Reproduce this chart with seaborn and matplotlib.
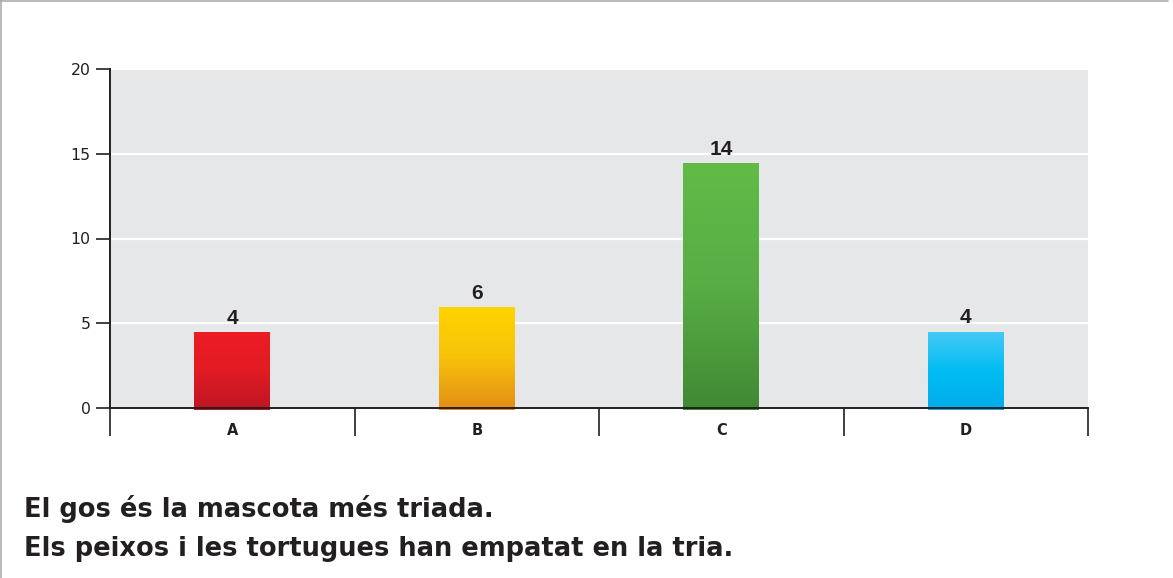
import numpy as np
import pandas as pd
import seaborn as sns
import matplotlib.pyplot as plt
from matplotlib.colors import LinearSegmentedColormap
from matplotlib.lines import Line2D

# Data
categories = ["A", "B", "C", "D"]
bar_heights = [4.45, 5.92, 14.4, 4.48]
bar_labels = ["4", "6", "14", "4"]
caption_lines = ["El gos és la mascota més triada.",
                 "Els peixos i les tortugues han empatat en la tria."]

# gradient stops: bottom, middle, top
gradients = [
    ["#BC1622", "#E21B24", "#ED1C24"],
    ["#E38C17", "#F7C20A", "#FFD400"],
    ["#3F8933", "#58AD45", "#62BB47"],
    ["#00ACEC", "#00BDF2", "#45C9F5"],
]

df = pd.DataFrame({"cat": categories, "value": bar_heights})

sns.set_theme(style="white")
plt.rcParams["font.family"] = ["DejaVu Sans"]

fig = plt.figure(figsize=(11.73, 5.78), dpi=100)
ax = fig.add_axes([110 / 1173, 1 - 408 / 578, 978 / 1173, 339 / 578])
ax.set_facecolor("#E6E7E8")

sns.barplot(data=df, x="cat", y="value", width=0.31, ax=ax, zorder=2)

# replace the flat fills by vertical gradients clipped to each bar
for patch, stops in zip(ax.patches, gradients):
    x0, y0 = patch.get_x(), patch.get_y()
    w, h = patch.get_width(), patch.get_height()
    cmap = LinearSegmentedColormap.from_list("g", [(0, stops[0]), (0.5, stops[1]), (1, stops[2])])
    grad = np.linspace(0, 1, 256).reshape(-1, 1)
    im = ax.imshow(grad, cmap=cmap, origin="lower", aspect="auto",
                   extent=[x0, x0 + w, y0 - 0.12, y0 + h], zorder=2)
    patch.set_facecolor("none")
    patch.set_edgecolor("none")
    im.set_clip_on(False)

for i, (h, lab) in enumerate(zip(bar_heights, bar_labels)):
    ax.annotate(lab, (i, h), xytext=(0, 6.5), textcoords="offset points",
                ha="center", va="baseline", fontsize=15, fontweight="bold",
                color="#231F20", family="Liberation Sans")

ax.set_xlim(-0.5, 3.5)
ax.set_ylim(0, 20)
ax.set_yticks([0, 5, 10, 15, 20])
ax.yaxis.grid(True, color="white", linewidth=1.6)
ax.set_axisbelow(True)

# category labels at centres, tick marks at boundaries
ax.set_xticks(range(len(categories)))
ax.set_xticklabels(categories, fontweight="bold", fontsize=10.5, color="#231F20")
ax.tick_params(axis="x", which="major", length=0, pad=11)
ax.set_xticks(np.arange(-0.5, 4.0, 1.0), minor=True)
ax.tick_params(axis="x", which="minor", length=20, width=1.2, color="#231F20", direction="out", bottom=True)
ax.tick_params(axis="y", length=10, width=1.2, color="#231F20", direction="out", left=True,
               labelsize=11.3, labelcolor="#231F20", pad=4)
ax.set_xlabel("")
ax.set_ylabel("")

sns.despine(ax=ax, top=True, right=True)
for side in ["left", "bottom"]:
    ax.spines[side].set_color("#231F20")
    ax.spines[side].set_linewidth(1.4)
    ax.spines[side].set_zorder(3)

# caption
fig.text(24 / 1173, 1 - 517 / 578, caption_lines[0], fontsize=18.5, fontweight="bold",
         color="#231F20", va="baseline")
fig.text(24 / 1173, 1 - 556 / 578, caption_lines[1], fontsize=18.5, fontweight="bold",
         color="#231F20", va="baseline")

# thin frame on top and left edges
fig.add_artist(Line2D([0, 1168 / 1173], [1 - 1 / 578, 1 - 1 / 578], transform=fig.transFigure,
                      color="#AEAEAE", linewidth=1.2))
fig.add_artist(Line2D([0.5 / 1173, 0.5 / 1173], [0, 1], transform=fig.transFigure,
                      color="#AEAEAE", linewidth=1.2))

fig.savefig("out.png", dpi=100)
